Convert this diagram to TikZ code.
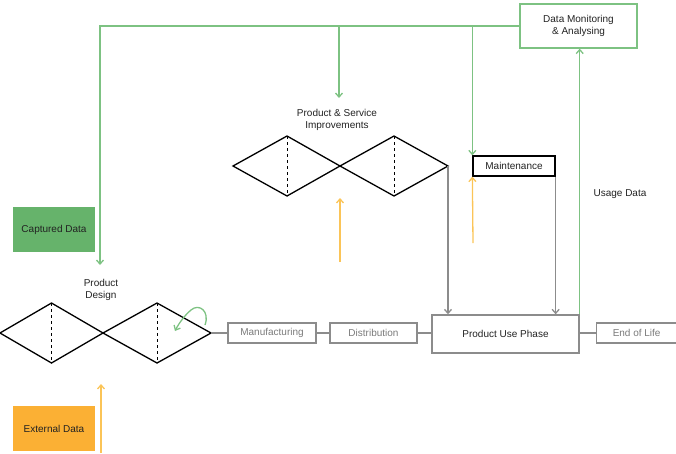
\documentclass[tikz,border=0pt]{standalone}
\usepackage{fontspec}
\setmainfont{Liberation Sans}
\usetikzlibrary{arrows.meta}
\definecolor{lgreen}{HTML}{7DC282}
\definecolor{fgreen}{HTML}{66B36B}
\definecolor{forange}{HTML}{FBB034}
\definecolor{lorange}{HTML}{FBC457}
\definecolor{lgray}{HTML}{8C8C8C}
\definecolor{tgray}{HTML}{7A7A7A}
\definecolor{tdark}{HTML}{222222}
\tikzset{
  every node/.style={font=\fontsize{10}{12}\selectfont, text=tdark, inner sep=0pt},
  tip/.style={-{Straight Barb[length=4pt,width=7pt]}},
  garrow/.style={draw=lgreen, line width=1.3pt, tip},
  oarrow/.style={draw=lorange, line width=1.3pt, tip},
  grarrow/.style={draw=lgray, line width=1.3pt, tip},
  grline/.style={draw=lgray, line width=1.3pt},
  graybox/.style={draw=lgray, line width=1.3pt, text=tgray, minimum height=20pt},
  diam/.style={draw=black, line width=1.3pt, line join=miter},
  midline/.style={draw=black, line width=0.9pt, dashed}
}
\begin{document}
\begin{tikzpicture}[x=1pt,y=-1pt]
\useasboundingbox (0,0) rectangle (676,453);
% boxes
\node[draw=lgreen, line width=1.3pt, minimum width=117pt, minimum height=44pt, align=center] (dma) at (578.5,26) {Data Monitoring\\\& Analysing};
\node[draw=black, line width=1.3pt, minimum width=82pt, minimum height=20pt] (maint) at (514,166) {Maintenance};
\node[draw=lgray, line width=1.4pt, minimum width=147pt, minimum height=38pt] (pup) at (505.5,334) {Product Use Phase};
\node[graybox, minimum width=88pt] (manu) at (272,333) {Manufacturing};
\node[graybox, minimum width=87pt] (dist) at (373.5,333) {Distribution};
\node[graybox, minimum width=82pt, anchor=west] (eol) at (596,333) {\hspace*{-2pt}End of Life};
\node[fill=fgreen, minimum width=82pt, minimum height=45pt] (cap) at (54,229.5) {Captured Data};
\node[fill=forange, minimum width=82pt, minimum height=45pt] (ext) at (54,428.5) {External Data};
% labels
\node[align=center] (pd) at (101,290) {Product\\Design};
\node[align=center] (psi) at (337,120) {Product \& Service\\Improvements};
\node (ud) at (620,194) {Usage Data};
% diamonds: product design
\coordinate (a1) at (0,333); \coordinate (a2) at (51.5,303); \coordinate (a3) at (103,333);
\coordinate (a4) at (51.5,363); \coordinate (a5) at (157,303); \coordinate (a6) at (211,333);
\coordinate (a7) at (157,363);
\draw[diam] (a1) -- (a2) -- (a3) -- (a5) -- (a6) -- (a7) -- (a3) -- (a4) -- cycle;
\draw[midline] (a2) -- (a4);
\draw[midline] (a5) -- (a7);
% diamonds: improvements
\coordinate (b1) at (233,166); \coordinate (b2) at (287,136); \coordinate (b3) at (340,166);
\coordinate (b4) at (287,196); \coordinate (b5) at (394,136); \coordinate (b6) at (448,166);
\coordinate (b7) at (394,196);
\draw[diam] (b1) -- (b2) -- (b3) -- (b5) -- (b6) -- (b7) -- (b3) -- (b4) -- cycle;
\draw[midline] (b2) -- (b4);
\draw[midline] (b5) -- (b7);
% chain connectors
\draw[grline] (a6) -- (manu.west);
\draw[grline] (manu.east) -- (dist.west);
\draw[grline] (dist.east) -- (dist.east -| pup.west);
\draw[grline] (pup.east |- eol.west) -- (eol.west);
% green feedback lines
\coordinate (pdin) at (100,265);
\coordinate (psiin) at (339,98);
\coordinate (top1) at (100,26);
\draw[garrow] (dma.west) -- (top1) -- (pdin);
\draw[garrow] (psiin |- dma.west) -- (psiin);
\draw[garrow] (maint.north west |- dma.west) -- (maint.north west);
\draw[garrow] (pup.north east) -- (pup.north east |- dma.south);
% gray arrows into product use phase
\draw[grarrow] (b6) -- (b6 |- pup.north);
\draw[grarrow] (maint.south east) -- (maint.south east |- pup.north);
% orange arrows
\coordinate (o1s) at (473,243);
\draw[oarrow] (o1s) -- (maint.south west);
\coordinate (o2s) at (340,262); \coordinate (o2e) at (340,198);
\draw[oarrow] (o2s) -- (o2e);
\coordinate (o3s) at (101,453); \coordinate (o3e) at (101,384);
\draw[oarrow] (o3s) -- (o3e);
% curved iteration arrow
\coordinate (cs) at (205,325); \coordinate (ce) at (175,331);
\draw[draw=lgreen, line width=1.3pt, tip] (cs) .. controls (210,311) and (199,303) .. (191,310) .. controls (185,315) and (179,323) .. (ce);
\end{tikzpicture}
\end{document}
